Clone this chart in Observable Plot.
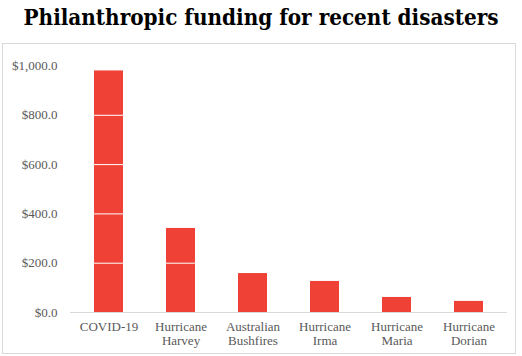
<!DOCTYPE html>
<html><head><meta charset="utf-8">
<script src="https://cdn.jsdelivr.net/npm/d3@7"></script>
<script src="https://cdn.jsdelivr.net/npm/@observablehq/plot@0.6"></script>
<style>
html,body{margin:0;padding:0;background:#fff;width:522px;height:356px;overflow:hidden;}
#frame{position:absolute;left:2px;top:43px;width:514px;height:311px;border:1px solid #d9d9d9;box-sizing:border-box;}
#title{position:absolute;left:0;top:0;width:522px;height:36px;text-align:center;white-space:nowrap;}
#title span{display:inline-block;font-family:"DejaVu Serif",serif;font-weight:bold;font-size:22px;line-height:34px;color:#000;transform-origin:center;}
#chart{position:absolute;left:0;top:44px;}
</style></head>
<body>
<div id="frame"></div>
<div id="title"><span id="tt">Philanthropic funding for recent disasters</span></div>
<div id="chart"></div>
<script>
const categories = ["COVID-19", "Hurricane\nHarvey", "Australian\nBushfires", "Hurricane\nIrma", "Hurricane\nMaria", "Hurricane\nDorian"];
const values = [980, 341, 158, 126, 61, 45];
const yTicks = [0, 200, 400, 600, 800, 1000];
const gridTicks = [200, 400, 600, 800, 1000];

const data = categories.map((c, i) => ({category: c, value: values[i]}));
const fmt = d => "$" + d3.format(",.1f")(d);

const tt = document.getElementById("tt");
const w = tt.getBoundingClientRect().width;
tt.style.transform = `scaleX(${475 / w})`;

const plot = Plot.plot({
  width: 522,
  height: 312,
  marginLeft: 70,
  marginRight: 15,
  marginTop: 21.5,
  marginBottom: 44,
  style: {fontFamily: "'Liberation Serif', serif", fontSize: "13px", color: "#595959", background: "transparent"},
  x: {domain: categories, paddingInner: 0.6, paddingOuter: 0.3, label: null},
  y: {domain: [0, 1000], label: null},
  marks: [
    Plot.barY(data, {x: "category", y: "value", fill: "#ef4136"}),
    Plot.ruleY(gridTicks, {stroke: "#ffffff", strokeWidth: 1}),
    Plot.ruleY([0], {stroke: "#d9d9d9", strokeWidth: 1}),
    Plot.axisX({tickSize: 0, tickPadding: 9, lineHeight: 1.05, label: null}),
    Plot.axisY({ticks: yTicks, tickFormat: fmt, tickSize: 0, tickPadding: 13, label: null})
  ]
});
document.getElementById("chart").appendChild(plot);
</script>
</body></html>
